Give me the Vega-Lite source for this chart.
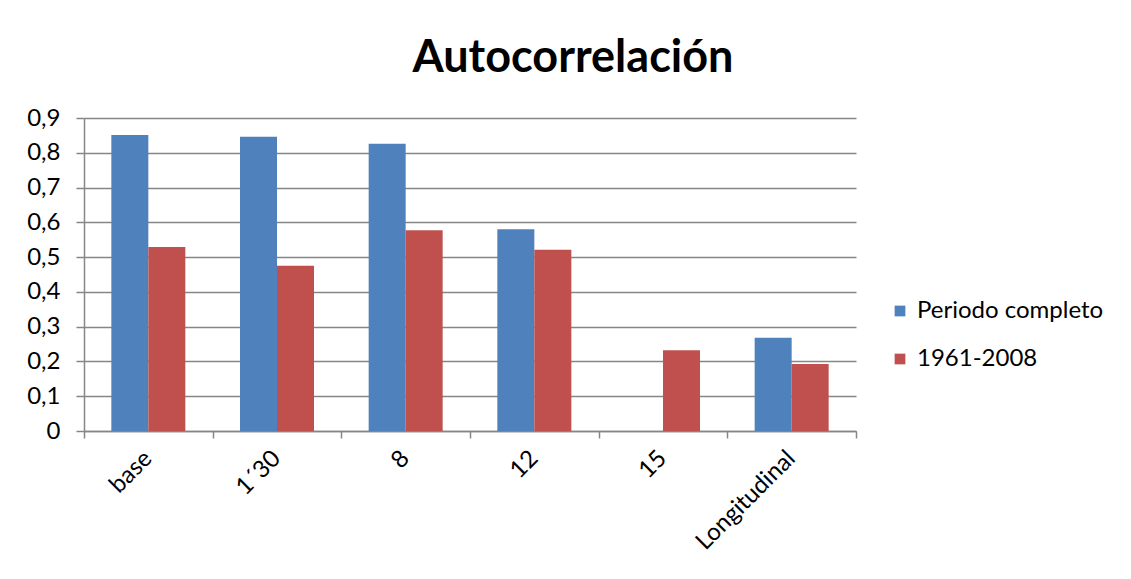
{
  "$schema": "https://vega.github.io/schema/vega-lite/v6.json",
  "width": 772,
  "height": 313,
  "autosize": {"type": "none"},
  "padding": {"left": 84, "top": 118, "right": 275, "bottom": 148},
  "background": "white",
  "title": {
    "text": "Autocorrelación",
    "font": "Lato",
    "fontSize": 45,
    "fontWeight": "bold",
    "color": "#000000",
    "anchor": "middle",
    "dx": 103,
    "offset": 25
  },
  "data": {
    "values": [
      {"cat": "base", "serie": "Periodo completo", "valor": 0.851},
      {"cat": "base", "serie": "1961-2008", "valor": 0.529},
      {"cat": "1´30", "serie": "Periodo completo", "valor": 0.846},
      {"cat": "1´30", "serie": "1961-2008", "valor": 0.475},
      {"cat": "8", "serie": "Periodo completo", "valor": 0.826},
      {"cat": "8", "serie": "1961-2008", "valor": 0.577},
      {"cat": "12", "serie": "Periodo completo", "valor": 0.58},
      {"cat": "12", "serie": "1961-2008", "valor": 0.521},
      {"cat": "15", "serie": "1961-2008", "valor": 0.232},
      {"cat": "Longitudinal", "serie": "Periodo completo", "valor": 0.268},
      {"cat": "Longitudinal", "serie": "1961-2008", "valor": 0.193}
    ]
  },
  "mark": {"type": "bar"},
  "encoding": {
    "x": {
      "field": "cat",
      "type": "nominal",
      "sort": ["base", "1´30", "8", "12", "15", "Longitudinal"],
      "scale": {"paddingInner": 0, "paddingOuter": 0},
      "axis": {
        "title": null,
        "labelAngle": -45,
        "labelFont": "Lato",
        "labelFontSize": 24,
        "labelColor": "#000000",
        "labelPadding": 8,
        "labelOffset": -9,
        "tickBand": "extent",
        "tickSize": 7,
        "tickColor": "#868686",
        "domainColor": "#868686",
        "domainWidth": 1.5,
        "tickWidth": 1.5,
        "grid": false
      }
    },
    "xOffset": {
      "field": "serie",
      "type": "nominal",
      "sort": ["Periodo completo", "1961-2008"],
      "scale": {"paddingInner": 0, "paddingOuter": 0.7388}
    },
    "y": {
      "field": "valor",
      "type": "quantitative",
      "scale": {"domain": [0, 0.9], "nice": false},
      "axis": {
        "title": null,
        "values": [0, 0.1, 0.2, 0.3, 0.4, 0.5, 0.6, 0.7, 0.8, 0.9],
        "labelExpr": "datum.value == 0 ? '0' : replace(format(datum.value, '.1f'), '.', ',')",
        "labelFont": "Lato",
        "labelFontSize": 24,
        "labelColor": "#000000",
        "labelPadding": 16,
        "tickSize": 8,
        "tickColor": "#868686",
        "tickWidth": 1.5,
        "domainColor": "#868686",
        "domainWidth": 1.5,
        "grid": true,
        "gridColor": "#868686",
        "gridWidth": 1.5
      }
    },
    "color": {
      "field": "serie",
      "type": "nominal",
      "sort": ["Periodo completo", "1961-2008"],
      "scale": {"domain": ["Periodo completo", "1961-2008"], "range": ["#4F81BD", "#C0504D"]},
      "legend": {
        "title": null,
        "orient": "none",
        "legendX": 804,
        "legendY": 181,
        "symbolType": "square",
        "symbolSize": 115,
        "symbolStrokeWidth": 0,
        "labelFont": "Lato",
        "labelFontSize": 24,
        "labelColor": "#000000",
        "labelOffset": 5,
        "labelLimit": 400,
        "rowPadding": 24
      }
    }
  },
  "config": {
    "view": {"stroke": null}
  }
}
